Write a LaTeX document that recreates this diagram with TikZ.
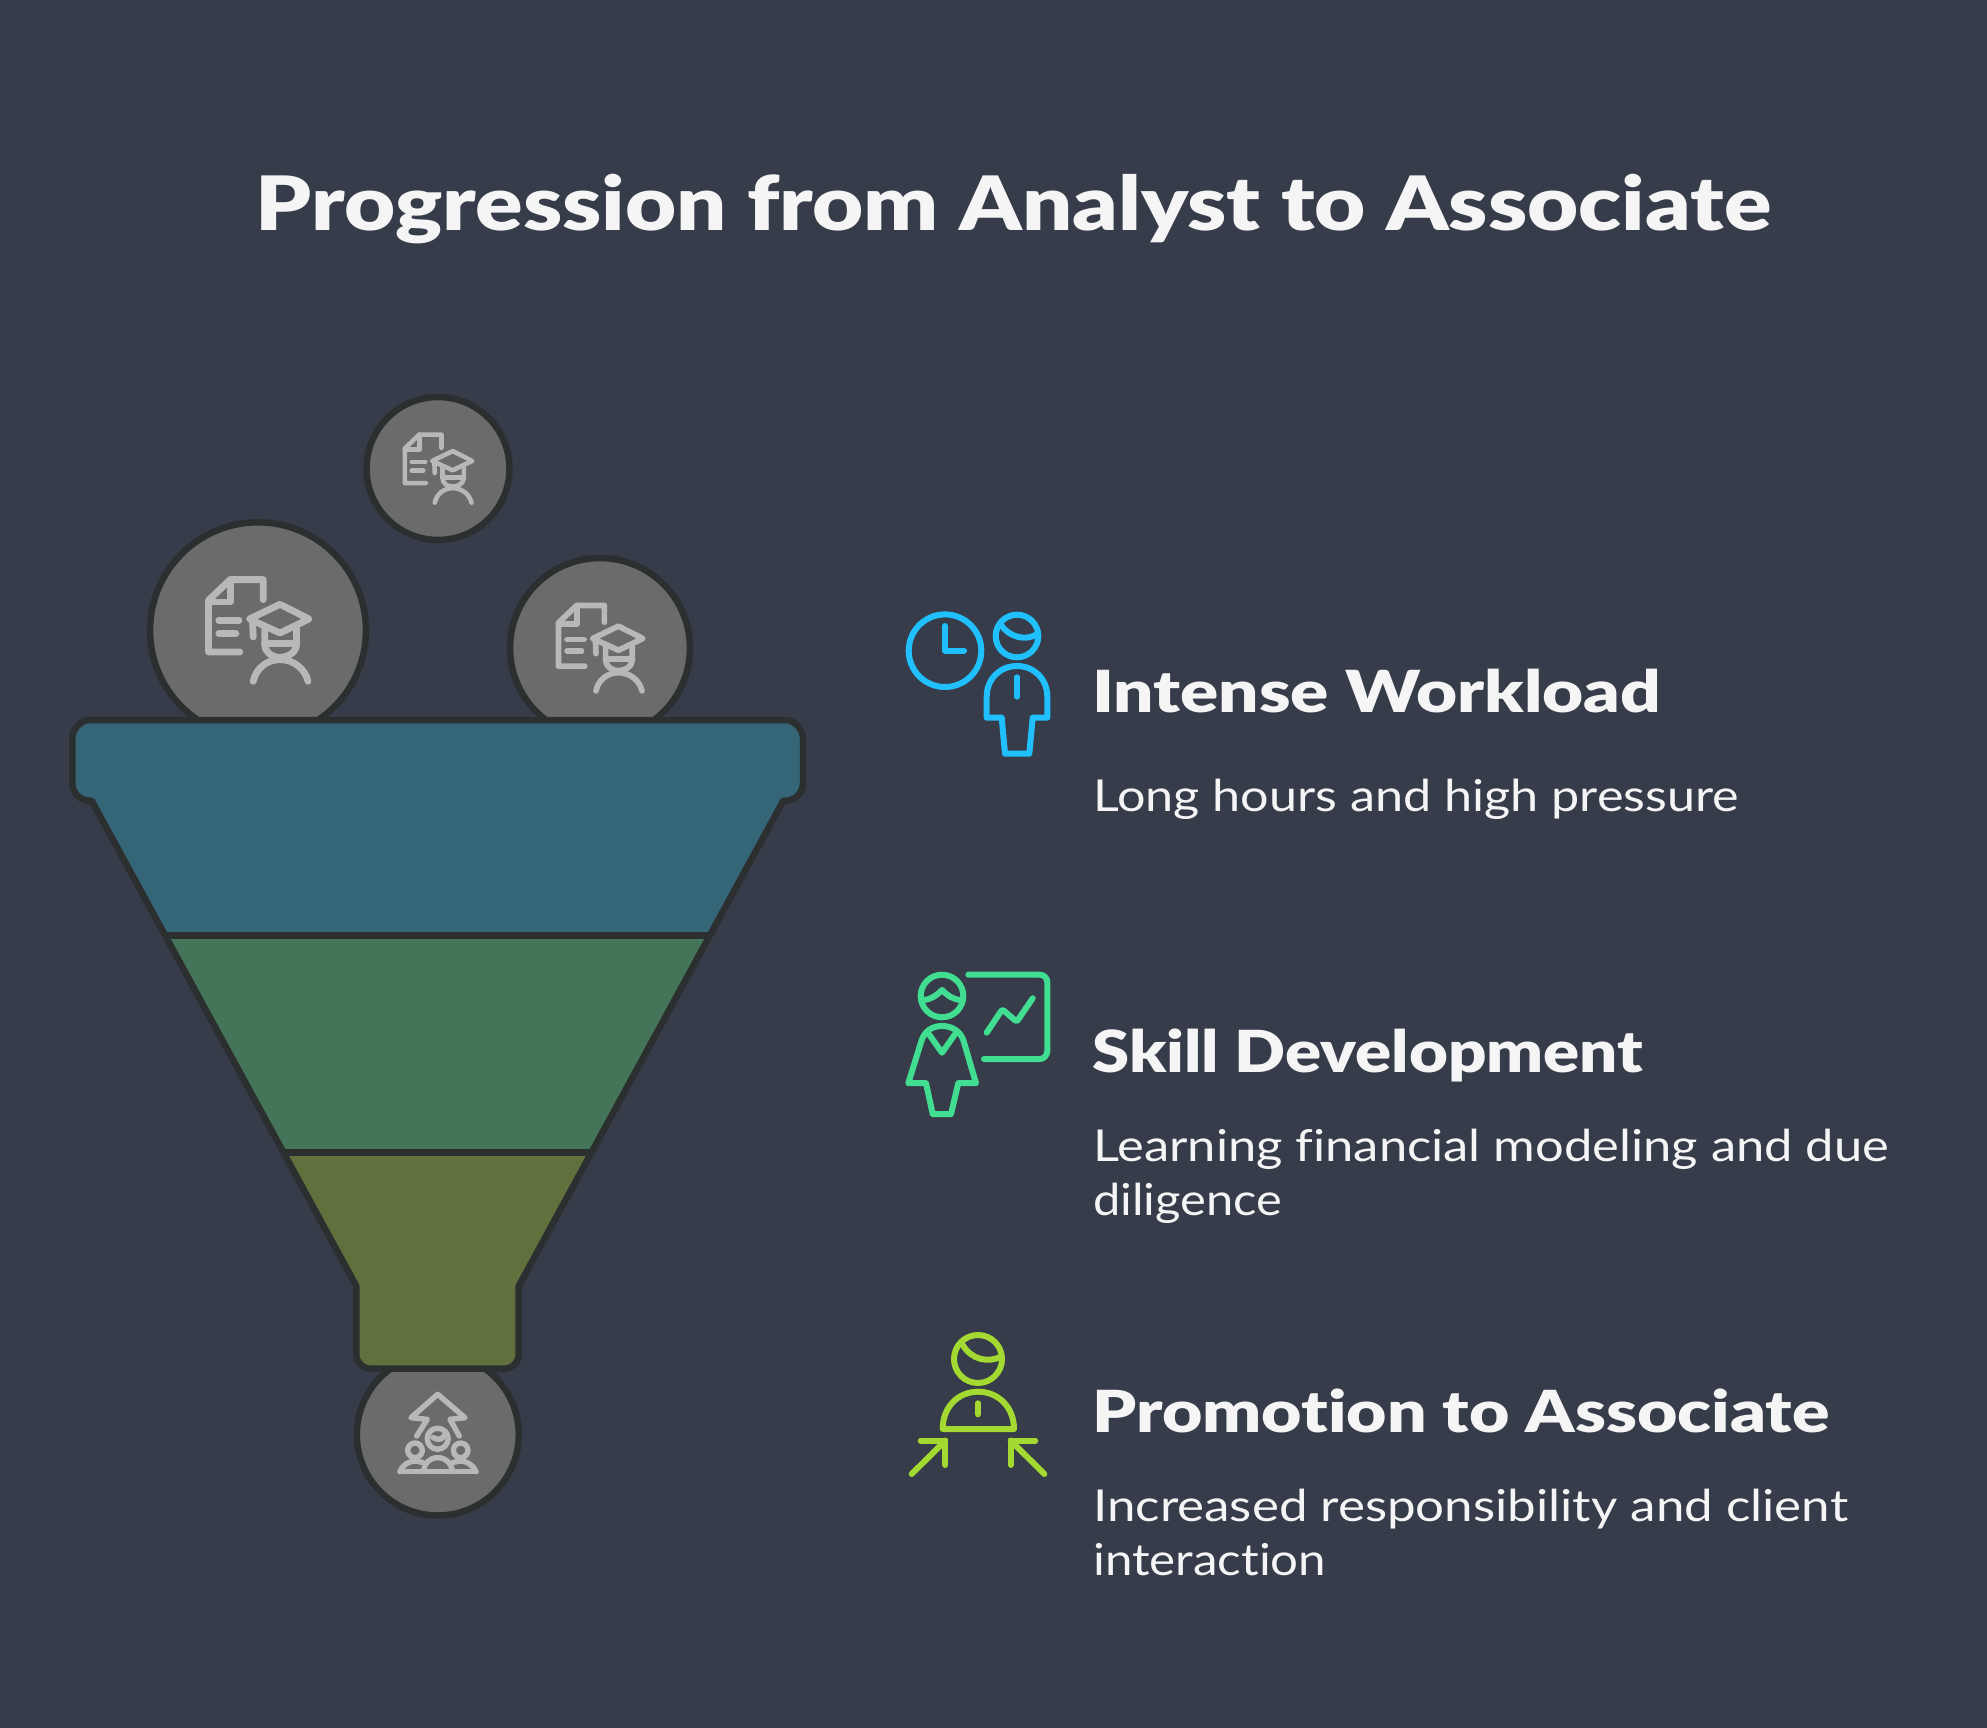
\documentclass[tikz,border=0pt]{standalone}
\usepackage{graphicx}
\usepackage{fontspec}
\setmainfont{Lato}[Ligatures=NoCommon,BoldFont={Lato Black}]
\definecolor{bgc}{HTML}{363C4A}
\definecolor{edgec}{HTML}{2B2F30}
\definecolor{ballc}{HTML}{6B6B6B}
\definecolor{ballic}{HTML}{B8B8B8}
\definecolor{funa}{HTML}{356677}
\definecolor{funb}{HTML}{447559}
\definecolor{func}{HTML}{60713E}
\definecolor{iblue}{HTML}{1FC0FD}
\definecolor{igreen}{HTML}{41DD90}
\definecolor{ilime}{HTML}{A3D930}
\definecolor{txtc}{HTML}{F5F5F5}
\newcommand{\funnelpath}{(437.5,720) -- (785,720) .. controls (795,720) and (803,730) .. (803,738) -- (803,783) .. controls (803,793) and (795,800.7) .. (785,800.7) -- (783.3,800.7) -- (518.7,1286) -- (518.7,1354.7) .. controls (518.7,1362.4) and (512,1368.7) .. (504.7,1368.7) -- (370.3,1368.7) .. controls (363,1368.7) and (356.3,1362.4) .. (356.3,1354.7) -- (356.3,1286) -- (91.7,800.7) -- (90,800.7) .. controls (80,800.7) and (72.3,793) .. (72.3,783) -- (72.3,738) .. controls (72.3,730) and (80,720) .. (90,720) -- cycle}
\newcommand{\scholaricon}[2]{%
  \begin{scope}[shift={(#1)},scale=#2,line width=#2*6.8pt,draw=ballic,line cap=round,line join=round]
    \draw (5.2,-30.7) -- (5.2,-50.7) -- (-27.7,-50.7) -- (-49.5,-30) -- (-49.5,21.7) -- (-18.2,21.7);
    \draw (-27.7,-50.7) -- (-27.7,-28.3) -- (-49.5,-28.3);
    \draw (-39.2,-10) -- (-19,-10);
    \draw (-39.2,3.3) -- (-22,3.3);
    \draw (22,-26) -- (51,-11.3) -- (22,2.7) -- (-8.6,-11.3) -- cycle;
    \draw (-5.5,-11.3) -- (-4.8,6.7);
    \draw (6.7,-2) -- (6.7,14) .. controls (6.7,22) and (14,27) .. (22,27) .. controls (30,27) and (38.5,22) .. (38.5,14) -- (38.5,-2);
    \draw (6.7,13.3) -- (38.5,13.3);
    \draw (-4.8,51) .. controls (-2,38) and (9,29.3) .. (22,29.3) .. controls (35,29.3) and (47,38) .. (50,51);
  \end{scope}}
\tikzset{
  ball/.style={circle,draw=edgec,fill=ballc,line width=6.5pt,inner sep=0pt},
  title/.style={anchor=base,text=txtc,font=\fontsize{75}{90}\selectfont\bfseries,inner sep=0pt},
  heading/.style={anchor=base west,text=txtc,font=\fontsize{58}{70}\selectfont\bfseries,inner sep=0pt},
  body/.style={anchor=base west,text=txtc,font=\fontsize{44}{53}\selectfont,inner sep=0pt},
  glyph/.style={line width=6pt,line cap=round,line join=round}
}
\begin{document}
\begin{tikzpicture}[x=1pt,y=-1pt]
\path[fill=bgc,use as bounding box] (0,0) rectangle (1987,1728);

\node[title] (ttl) at (1013.5,231) {\resizebox{1515pt}{\height}{Progression from Analyst to Associate}};

% balls (behind funnel)
\node[ball,minimum size=216pt] (ba) at (258,630.3) {};
\node[ball,minimum size=143pt] (bb) at (438,468.5) {};
\node[ball,minimum size=180pt] (bc) at (600,648) {};
\node[ball,minimum size=162pt] (bd) at (437.8,1434.5) {};
\scholaricon{ba}{1}
\scholaricon{bb}{0.67}
\scholaricon{bc}{0.84}
\begin{scope}[shift={(bd)},draw=ballic,line width=5.4pt,line cap=round,line join=round]
  \draw (-21.1,1.5) -- (-10.5,-15.2) -- (-26.8,-16.8) -- (-0.1,-40.2) -- (27.2,-16.8) -- (12.2,-15.2) -- (21.5,1.5);
  \draw (-0.1,4.2) circle[radius=10.5];
  \draw (-5,3) .. controls (0,6) and (5,5) .. (6.3,1);
  \draw (-22.8,15.8) circle[radius=7.3];
  \draw (22.9,15.8) circle[radius=7.3];
  \draw (-37.8,37.2) -- (38.2,37.2);
  \draw (-14.5,37.2) .. controls (-13,28) and (-8,23.2) .. (0,23.2) .. controls (8,23.2) and (13,28) .. (14.9,37.2);
  \draw (-37.8,37.2) .. controls (-35,30) and (-29,26.5) .. (-22,26.5) -- (-15,28);
  \draw (38.2,37.2) .. controls (35,30) and (29,26.5) .. (22,26.5) -- (15,28);
\end{scope}

% funnel
\begin{scope}
  \clip \funnelpath;
  \fill[funa] (0,700) rectangle (900,935.7);
  \fill[funb] (0,935.7) rectangle (900,1152.5);
  \fill[func] (0,1152.5) rectangle (900,1400);
\end{scope}
\coordinate (dal) at (165,935.7);
\coordinate (dar) at (710,935.7);
\coordinate (dbl) at (283,1152.5);
\coordinate (dbr) at (592,1152.5);
\draw[edgec,line width=6.5pt] (dal) -- (dar);
\draw[edgec,line width=6.5pt] (dbl) -- (dbr);
\draw[edgec,line width=6.5pt,line join=round] \funnelpath;

% blue icon
\begin{scope}[iblue,glyph]
  \draw (945,650.7) circle[radius=36.3];
  \draw (945,626) -- (945,650.7) -- (964,650.7);
  \draw (1017,636) circle[radius=21.3];
  \draw (1001.7,626) .. controls (1010,637) and (1026,642) .. (1038.3,633.3);
  \draw (1001.7,717.7) -- (986.7,717.7) -- (986.7,696.7) .. controls (986.7,679) and (1000,666) .. (1017,666) .. controls (1034,666) and (1047.3,679) .. (1047.3,696.7) -- (1047.3,717.7) -- (1032.7,717.7) -- (1029.3,753.7) -- (1005,753.7) -- cycle;
  \draw (1017,677.3) -- (1017,696.7);
\end{scope}

% green icon
\begin{scope}[igreen,glyph]
  \draw (942,996) circle[radius=21.3];
  \draw (924,1000) .. controls (932,999) and (937,995) .. (942,990) .. controls (947,995) and (952,999) .. (960,1000);
  \draw (968.3,974.7) -- (1040,974.7) .. controls (1044,974.7) and (1047.3,978) .. (1047.3,982) -- (1047.3,1051) .. controls (1047.3,1055) and (1044,1059) .. (1040,1059) -- (984,1059);
  \draw[rounded corners=2pt] (986.7,1032.7) -- (1002.3,1009.3) -- (1016.7,1021.7) -- (1032.7,998.3);
  \draw (926,1083.2) -- (908.3,1083.2) -- (921.7,1040) .. controls (925,1031) and (932,1026) .. (942,1026) .. controls (952,1026) and (960,1031) .. (963.3,1040) -- (976,1083.2) -- (958.3,1083.2) -- (951,1114) -- (932.7,1114) -- cycle;
  \draw (928.3,1033.3) -- (942,1052.7) -- (955.7,1033.3);
\end{scope}

% lime icon
\begin{scope}[ilime,glyph]
  \draw (978,1359) circle[radius=24];
  \draw (962.7,1345) .. controls (972,1360) and (988,1363) .. (1000.7,1356.7);
  \draw (942.7,1429) .. controls (942.7,1407) and (958,1391.7) .. (978.3,1391.7) .. controls (998,1391.7) and (1014,1407) .. (1014,1429) -- cycle;
  \draw (978,1403.3) -- (978,1414.3);
  \draw (920.7,1440.5) -- (945.3,1440.5) -- (945.3,1465);
  \draw (945.3,1440.5) -- (911.7,1474);
  \draw (1035.3,1440.5) -- (1010.7,1440.5) -- (1010.7,1465);
  \draw (1010.7,1440.5) -- (1044.3,1474);
\end{scope}

% texts
\node[heading] (ha) at (1092,712) {\resizebox{569pt}{\height}{Intense Workload}};
\node[body] (ta) at (1093,811) {\resizebox{646pt}{\height}{Long hours and high pressure}};
\node[heading] (hb) at (1092,1072) {\resizebox{551pt}{\height}{Skill Development}};
\node[body] (tb) at (1093,1161) {\resizebox{796pt}{\height}{Learning financial modeling and due}};
\node[body] (tbb) at (1093,1215) {\resizebox{189pt}{\height}{diligence}};
\node[heading] (hc) at (1092,1432) {\resizebox{737pt}{\height}{Promotion to Associate}};
\node[body] (tc) at (1093,1521.5) {\resizebox{755pt}{\height}{Increased responsibility and client}};
\node[body] (tcc) at (1093,1575.5) {\resizebox{233pt}{\height}{interaction}};
\end{tikzpicture}
\end{document}
